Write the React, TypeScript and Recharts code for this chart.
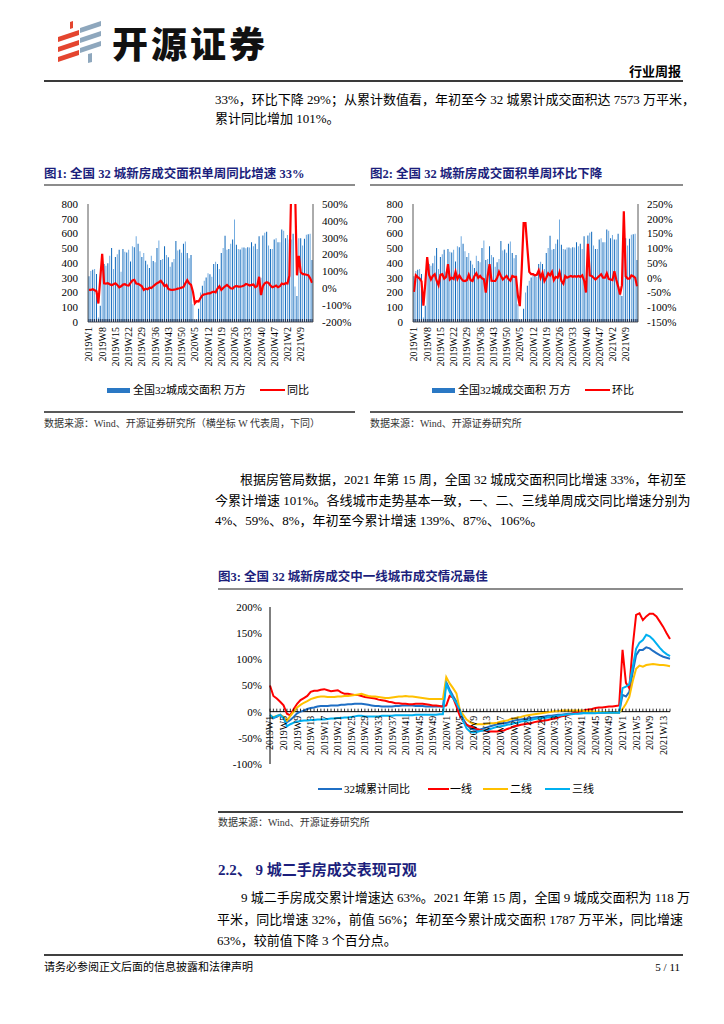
import React from 'react';
import { ComposedChart, LineChart, Bar, Line, XAxis, YAxis, Cell, ReferenceLine } from 'recharts';

const FONT = '"Liberation Serif", "Noto Sans CJK SC", serif';
const NAVY = '#1c1f7c';

// weekly categories, 2019W1 .. 2021W15
const weeks: string[] = [
  ...Array.from({ length: 52 }, (_, i) => `2019W${i + 1}`),
  ...Array.from({ length: 52 }, (_, i) => `2020W${i + 1}`),
  ...Array.from({ length: 15 }, (_, i) => `2021W${i + 1}`),
];

// 全国32城成交面积 (万方)
const area = [
  310, 345, 355, 360, 325, 30, 110, 420, 393, 382,
  398, 450, 502, 360, 440, 460, 490, 340, 495, 477,
  472, 489, 411, 514, 507, 582, 530, 480, 440, 468,
  416, 389, 366, 450, 414, 405, 502, 552, 420, 427,
  514, 455, 439, 375, 405, 427, 550, 484, 491, 470,
  530, 545, 468, 432, 455, 120, 10, 15, 90, 200,
  245, 280, 302, 330, 323, 307, 393, 409, 393, 359,
  468, 502, 585, 490, 495, 530, 560, 695, 523, 495,
  491, 505, 505, 500, 507, 505, 541, 514, 530, 495,
  582, 300, 586, 605, 612, 518, 495, 495, 559, 568,
  541, 541, 627, 618, 568, 590, 560, 560, 598, 241,
  177, 568, 568, 518, 564, 591, 595, 598, 420,
];

// 同比 (%)
const yoy = [
  -10, -10, -6, -12, -18, -90, 60, 205, 30, 28,
  30, 24, 18, 24, 30, 20, 6, 12, 22, 24,
  18, 16, 32, 46, 50, 28, 26, 20, 12, -10,
  -2, -6, 4, 2, 12, 22, 30, 36, 44, 30,
  12, 20, -4, -8, -10, -8, -6, -2, 0, 4,
  8, 30, 48, 30, 20, -20, -89, -76, -78, -58,
  -42, -36, -34, -30, -30, -24, -20, -24, -2, 12,
  -10, 2, 12, 20, 10, 0, -2, 10, 14, 10,
  10, 12, 16, 26, 22, 16, 20, 22, 6, 14,
  68, -40, 12, 30, 36, 32, 16, 6, 10, 16,
  6, 12, 28, 24, 30, 28, 74, 600, 700, 600,
  77, 192, 95, 85, 83, 80, 77, 60, 33,
];

// 环比 (%)
const hb = [
  -48, 8, 2, -3, -12, -95, -20, 70, 10, -6,
  6, 12, -10, -25, 10, 12, -3, 3, 46, -6,
  0, -4, 20, -4, 8, -3, -10, -11, -8, 10,
  -8, -11, 6, 15, 0, 6, -2, -5, -50, 6,
  46, -10, -11, -11, 0, 20, 6, -6, 0, 6,
  -4, -10, 6, 3, 3, -62, -96, 30, 185, 185,
  100, 20, 12, 12, 8, 10, 25, 0, 17, -11,
  0, 15, 8, 20, -8, 3, 0, 19, -11, -20,
  6, 0, 3, 6, 3, 5, 3, 6, 3, 8,
  -10, -50, 115, 8, 6, 0, -6, 0, 6, 12,
  0, 0, 15, -4, -6, -8, 22, -6, -30, -57,
  -25, 225, 5, -3, -3, 8, 5, 0, -29,
];

// 累计同比 (%)
const cum32 = [
  -9, -12, -10, -6, -12, -20, -16, -10, -3, 0,
  2, 5, 7, 8, 10, 11, 11, 11, 12, 12,
  12, 13, 13, 14, 14, 15, 15, 15, 14, 13,
  12, 11, 11, 10, 10, 10, 10, 11, 11, 12,
  12, 12, 12, 11, 11, 11, 10, 10, 10, 10,
  10, 10, 56, 42, 30, 19, 0, -14, -25, -31,
  -34, -35, -34, -32, -30, -28, -26, -24, -23, -22,
  -21, -19, -17, -16, -15, -14, -13, -12, -11, -10,
  -10, -9, -8, -8, -7, -6, -6, -5, -4, -4,
  -3, -3, -3, -2, -2, -2, -2, -2, -2, -2,
  -2, -2, -2, -2, 32, 29, 38, 75, 108, 118,
  118, 123, 121, 116, 112, 108, 105, 103, 101,
];

const tier1 = [
  50, 30, 25, 19, 12, -4, -7, 5, 15, 22,
  26, 30, 38, 40, 40, 42, 43, 41, 39, 40,
  41, 37, 34, 34, 33, 32, 32, 30, 28, 27,
  26, 25, 23, 22, 21, 19, 18, 16, 16, 15,
  15, 14, 14, 15, 15, 15, 14, 13, 12, 12,
  11, 10, 12, 30, 27, 10, -8, -18, -25, -28,
  -30, -33, -35, -36, -37, -38, -38, -38, -37, -36,
  -33, -31, -28, -27, -25, -24, -23, -22, -20, -19,
  -18, -17, -16, -14, -13, -11, -9, -8, -6, -4,
  -2, 0, 1, 3, 4, 5, 7, 8, 8, 9,
  10, 10, 11, 12, 118, 55, 45, 125, 185, 188,
  175, 182, 187, 187, 182, 172, 162, 150, 139,
];

const tier2 = [
  -9, -10, -8, -6, -10, -17, -8, 0, 8, 13,
  17, 20, 24, 26, 28, 29, 29, 28, 28, 28,
  29, 29, 30, 30, 31, 32, 33, 34, 32, 30,
  29, 29, 28, 27, 26, 26, 27, 28, 29, 29,
  30, 29, 29, 28, 27, 26, 25, 24, 24, 24,
  24, 24, 66, 54, 45, 35, 3, -6, -15, -20,
  -23, -24, -24, -24, -23, -22, -22, -21, -19, -18,
  -17, -14, -13, -11, -10, -8, -7, -6, -5, -4,
  -3, -2, -1, 0, 1, 1, 2, 2, 2, 2,
  2, 2, 2, 1, 1, 1, 0, 0, -1, -1,
  -2, -2, -2, -1, 5, 15, 28, 58, 82, 88,
  86, 89, 90, 91, 90, 89, 89, 88, 87,
];

const tier3 = [
  -6, -12, -8, -6, -12, -28, -24, -21, -19, -18,
  -17, -17, -16, -16, -15, -15, -15, -14, -13, -13,
  -12, -12, -11, -11, -10, -9, -8, -8, -9, -9,
  -9, -9, -9, -8, -8, -8, -8, -7, -7, -7,
  -7, -7, -7, -6, -6, -6, -6, -6, -6, -6,
  -5, -5, 53, 38, 26, 16, 3, -18, -32, -38,
  -40, -39, -37, -36, -35, -33, -31, -29, -28, -27,
  -25, -24, -22, -21, -19, -18, -17, -16, -14, -13,
  -12, -12, -11, -10, -9, -8, -7, -6, -5, -5,
  -4, -4, -3, -3, -3, -3, -3, -2, -2, -2,
  -2, -2, -2, -2, 45, 48, 52, 85, 120, 132,
  137, 147, 144, 138, 130, 122, 115, 110, 106,
];

const leftTicks = [0, 100, 200, 300, 400, 500, 600, 700, 800];
const yoyTicks = [-200, -100, 0, 100, 200, 300, 400, 500];
const hbTicks = [-150, -100, -50, 0, 50, 100, 150, 200, 250];
const cumTicks = [-100, -50, 0, 50, 100, 150, 200];

const weeklyRows = weeks.map((w, i) => ({ week: w, area: area[i], yoy: yoy[i], hb: hb[i] }));
const cumRows = weeks.map((w, i) => ({ week: w, c32: cum32[i], t1: tier1[i], t2: tier2[i], t3: tier3[i] }));

const pct = (v: number) => `${v}%`;
const tickFont = { fontSize: 11, fill: '#000', fontFamily: FONT };

function WeekTick(props: any) {
  const { x, y, payload, index } = props;
  return (
    <g>
      <line x1={x} y1={y} x2={x} y2={y - 3} stroke="#1f3050" strokeWidth={1} />
      {index % 7 === 0 && (
        <text x={x} y={y + 5} transform={`rotate(-90, ${x}, ${y + 5})`} textAnchor="end" dy="0.35em"
          fontSize={10} fill="#000" fontFamily={FONT}>{payload.value}</text>
      )}
    </g>
  );
}

function BarLineChart({ lineKey, rightDomain, rightTicks }: { lineKey: string; rightDomain: [number, number]; rightTicks: number[] }) {
  return (
    <ComposedChart width={320} height={190} data={weeklyRows} margin={{ top: 9, right: 0, bottom: 0, left: 0 }} barCategoryGap="22%">
      <XAxis dataKey="week" interval={0} height={63} tickSize={0} tickMargin={0} tickLine={false}
        axisLine={{ stroke: '#595959' }} tick={(p: any) => <WeekTick {...p} />} />
      <YAxis yAxisId="left" domain={[0, 800]} ticks={leftTicks} interval={0} width={44} tickSize={8} tickMargin={2}
        tickLine={false} axisLine={{ stroke: '#595959' }} tick={tickFont} />
      <YAxis yAxisId="right" orientation="right" domain={rightDomain} ticks={rightTicks} interval={0} allowDataOverflow
        width={51} tickSize={7} tickMargin={2} tickLine={false} axisLine={{ stroke: '#595959' }} tickFormatter={pct}
        tick={tickFont} />
      <Bar yAxisId="left" dataKey="area" isAnimationActive={false}>
        {weeklyRows.map((_, i) => (
          <Cell key={i} fill={i % 2 === 0 ? '#0e68bb' : '#72abe0'} />
        ))}
      </Bar>
      <Line yAxisId="right" dataKey={lineKey} type="linear" stroke="#ff0000" strokeWidth={2.2} dot={false} isAnimationActive={false} />
    </ComposedChart>
  );
}

const CUM_PLOT_H = 157;

function CumTick(props: any) {
  const { x, y, payload, index } = props;
  const y0 = y - CUM_PLOT_H / 3; // level of 0% inside a -100%..200% plot
  return (
    <g>
      <line x1={x} y1={y0} x2={x} y2={y0 - 3} stroke="#000" strokeWidth={0.8} />
      {index % 4 === 0 && (
        <text x={x} y={y0 + 4} transform={`rotate(-90, ${x}, ${y0 + 4})`} textAnchor="end" dy="0.35em"
          fontSize={10} fill="#000" fontFamily={FONT}>{payload.value}</text>
      )}
    </g>
  );
}

function CumChart() {
  return (
    <LineChart width={470} height={172} data={cumRows} margin={{ top: 10, right: 10, bottom: 0, left: 0 }}>
      <XAxis dataKey="week" interval={0} height={5} tickSize={0} tickMargin={0} tickLine={false} axisLine={false}
        tick={(p: any) => <CumTick {...p} />} />
      <YAxis domain={[-100, 200]} ticks={cumTicks} interval={0} width={60} tickSize={6} tickMargin={2} tickLine={false}
        axisLine={{ stroke: '#000' }} tickFormatter={pct} tick={tickFont} />
      <ReferenceLine y={0} stroke="#000" strokeWidth={1} />
      <Line dataKey="c32" type="linear" stroke="#1f6fc5" strokeWidth={2} dot={false} isAnimationActive={false} />
      <Line dataKey="t1" type="linear" stroke="#ff0000" strokeWidth={2} dot={false} isAnimationActive={false} />
      <Line dataKey="t2" type="linear" stroke="#ffc000" strokeWidth={2} dot={false} isAnimationActive={false} />
      <Line dataKey="t3" type="linear" stroke="#00b0f0" strokeWidth={2} dot={false} isAnimationActive={false} />
    </LineChart>
  );
}

function Txt({ x, y, size = 13, color = '#000', bold = false, width, align, children, spacing }: any) {
  const lh = Math.round(size * 1.4);
  return (
    <div style={{
      position: 'absolute', left: x, top: y - lh / 2, width, height: lh, lineHeight: `${lh}px`, fontSize: size,
      color, fontWeight: bold ? 700 : 400, fontFamily: FONT, whiteSpace: 'nowrap', textAlign: align,
      textAlignLast: align, letterSpacing: spacing,
    }}>{children}</div>
  );
}

function Rule({ x1, x2, y, color = '#404040', h = 2 }: any) {
  return <div style={{ position: 'absolute', left: x1, top: y - h / 2, width: x2 - x1, height: h, background: color }} />;
}

function Swatch({ x, y, color, w = 24, h = 2.5 }: any) {
  return <div style={{ position: 'absolute', left: x, top: y - h / 2, width: w, height: h, background: color }} />;
}

function Logo() {
  const red = '#e4452f';
  const grey = '#8ea7bd';
  return (
    <svg width={50} height={46} style={{ position: 'absolute', left: 55, top: 18 }}>
      <polygon points="15,4 18,3 18,10 15,11" fill={red} />
      <polygon points="3,19 24,12 24,17 3,24" fill={red} />
      <polygon points="3,29 24,22 24,27 3,34" fill={red} />
      <polygon points="3,39 24,32 24,37 3,44" fill={red} />
      <polygon points="25,10 46,3 46,8 25,15" fill={grey} />
      <polygon points="25,20 46,13 46,18 25,25" fill={grey} />
      <polygon points="25,30 46,23 46,28 25,35" fill={grey} />
      <polygon points="33,36 37,35 37,44 33,45" fill={grey} />
    </svg>
  );
}

export default function App() {
  return (
    <div style={{ position: 'absolute', left: 0, top: 0, width: 724, height: 1024, background: '#fff', fontFamily: FONT, overflow: 'hidden' }}>
      <Logo />
      <div style={{ position: 'absolute', left: 112, top: 20, fontSize: 36, lineHeight: '44px', fontWeight: 900, letterSpacing: 3, fontFamily: '"Noto Sans CJK SC", sans-serif', color: '#111' }}>开源证券</div>
      <Txt x={560} y={72} width={121} align="right" bold>行业周报</Txt>
      <Rule x1={44} x2={683} y={81} color="#3a3a3a" h={2} />

      <Txt x={215} y={100} width={468} align="justify">33%，环比下降 29%；从累计数值看，年初至今 32 城累计成交面积达 7573 万平米，</Txt>
      <Txt x={215} y={119}>累计同比增加 101%。</Txt>

      <Txt x={44} y={174} size={12.5} bold color={NAVY}>图1:  全国 32 城新房成交面积单周同比增速 33%</Txt>
      <Txt x={370} y={174} size={12.5} bold color={NAVY}>图2:  全国 32 城新房成交面积单周环比下降</Txt>
      <Rule x1={44} x2={355} y={185} color="#8c8c8c" h={2} />
      <Rule x1={370} x2={683} y={185} color="#8c8c8c" h={2} />

      <div style={{ position: 'absolute', left: 44, top: 195 }}>
        <BarLineChart lineKey="yoy" rightDomain={[-200, 500]} rightTicks={yoyTicks} />
      </div>
      <div style={{ position: 'absolute', left: 369, top: 195 }}>
        <BarLineChart lineKey="hb" rightDomain={[-150, 250]} rightTicks={hbTicks} />
      </div>

      <Swatch x={107} y={390} w={23} h={5} color="#2a78c4" />
      <Txt x={133} y={390} size={11}>全国32城成交面积 万方</Txt>
      <Swatch x={260} y={390} w={25} h={2.5} color="#ff0000" />
      <Txt x={287} y={390} size={11}>同比</Txt>
      <Swatch x={432} y={390} w={23} h={5} color="#2a78c4" />
      <Txt x={458} y={390} size={11}>全国32城成交面积 万方</Txt>
      <Swatch x={585} y={390} w={25} h={2.5} color="#ff0000" />
      <Txt x={612} y={390} size={11}>环比</Txt>

      <Rule x1={44} x2={355} y={412} color="#595959" h={1.5} />
      <Rule x1={370} x2={683} y={412} color="#595959" h={1.5} />
      <Txt x={44} y={424} size={10} color="#333">数据来源：Wind、开源证券研究所（横坐标 W 代表周，下同）</Txt>
      <Txt x={370} y={424} size={10} color="#333">数据来源：Wind、开源证券研究所</Txt>

      <Txt x={240} y={480} width={443} align="justify">根据房管局数据，2021 年第 15 周，全国 32 城成交面积同比增速 33%，年初至</Txt>
      <Txt x={215} y={501} width={468} align="justify">今累计增速 101%。各线城市走势基本一致，一、二、三线单周成交同比增速分别为</Txt>
      <Txt x={215} y={521}>4%、59%、8%，年初至今累计增速 139%、87%、106%。</Txt>

      <Txt x={218} y={577} size={12.5} bold color={NAVY}>图3:  全国 32 城新房成交中一线城市成交情况最佳</Txt>
      <Rule x1={218} x2={683} y={589} color="#8c8c8c" h={2} />

      <div style={{ position: 'absolute', left: 210, top: 597 }}>
        <CumChart />
      </div>

      <Swatch x={318} y={789} w={24} h={2.5} color="#1f6fc5" />
      <Txt x={344} y={789} size={11}>32城累计同比</Txt>
      <Swatch x={428} y={789} w={21} h={2.5} color="#ff0000" />
      <Txt x={450} y={789} size={11}>一线</Txt>
      <Swatch x={483} y={789} w={25} h={2.5} color="#ffc000" />
      <Txt x={510} y={789} size={11}>二线</Txt>
      <Swatch x={545} y={789} w={25} h={2.5} color="#00b0f0" />
      <Txt x={572} y={789} size={11}>三线</Txt>

      <Rule x1={218} x2={683} y={812} color="#404040" h={1.5} />
      <Txt x={218} y={823} size={10} color="#333">数据来源：Wind、开源证券研究所</Txt>

      <Txt x={218} y={870} size={15} bold color={NAVY}>2.2、 9 城二手房成交表现可观</Txt>
      <Txt x={241} y={898} width={442} align="justify">9 城二手房成交累计增速达 63%。2021 年第 15 周，全国 9 城成交面积为 118 万</Txt>
      <Txt x={217} y={920} width={466} align="justify">平米，同比增速 32%，前值 56%；年初至今累计成交面积 1787 万平米，同比增速</Txt>
      <Txt x={217} y={941}>63%，较前值下降 3 个百分点。</Txt>

      <Rule x1={44} x2={683} y={955} color="#404040" h={2} />
      <Txt x={44} y={967} size={11}>请务必参阅正文后面的信息披露和法律声明</Txt>
      <Txt x={600} y={967} size={11} width={80} align="right">5 / 11</Txt>
    </div>
  );
}
